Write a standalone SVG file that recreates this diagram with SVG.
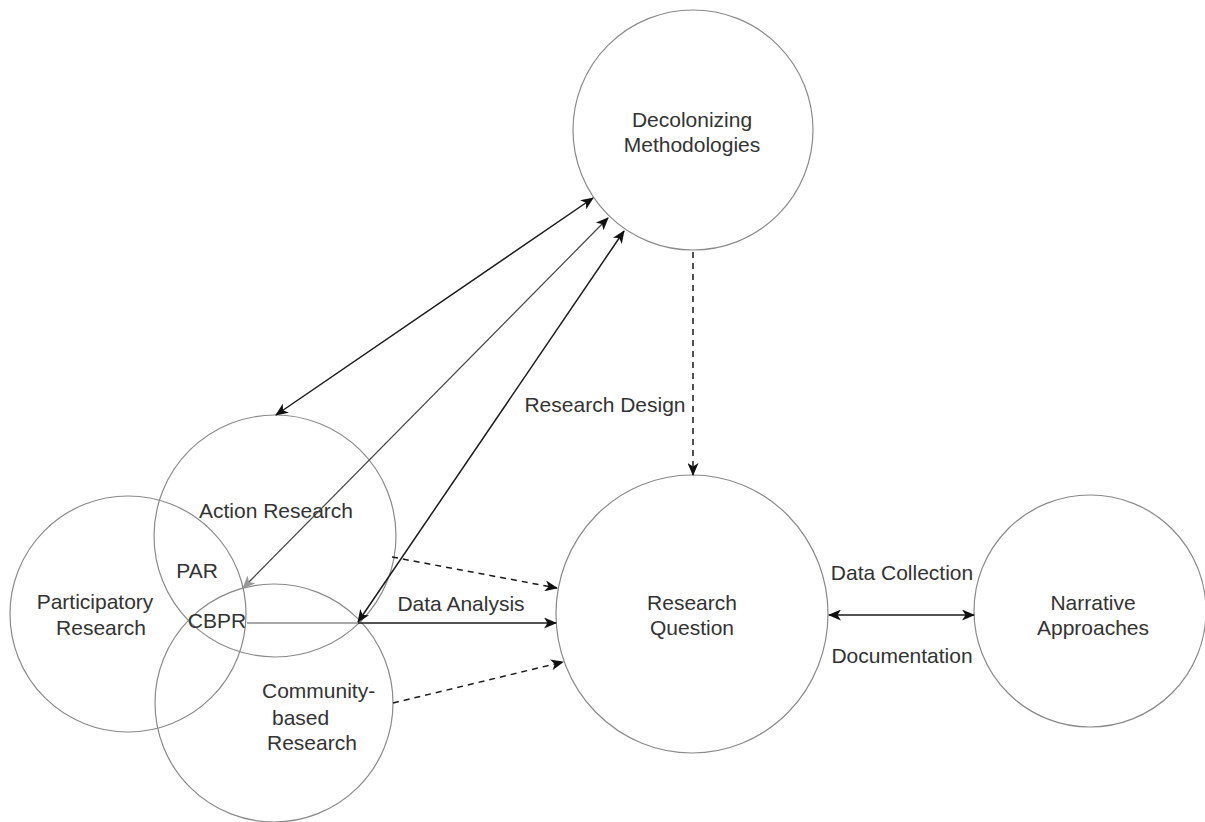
<svg xmlns="http://www.w3.org/2000/svg" width="1205" height="822" viewBox="0 0 1205 822">
<style>
.node{fill:none;stroke:#8a8a8a;stroke-width:1.2}
.lbl{font-family:"Liberation Sans",Arial,sans-serif;font-size:21px;fill:#333}
.c{text-anchor:middle}
.e{fill:none;stroke:#1a1a1a;stroke-width:1.5}
.g{fill:none;stroke:#8a8a8a;stroke-width:1.3}
.d{stroke-dasharray:6 5}
</style>
<defs>
<marker id="ah" viewBox="0 0 13 11" refX="12" refY="5.5" markerWidth="13" markerHeight="11" markerUnits="userSpaceOnUse" orient="auto-start-reverse">
<path d="M0,0 L13,5.5 L0,11 L3.5,5.5 z" fill="#111"/>
</marker>
<marker id="ahg" viewBox="0 0 13 11" refX="12" refY="5.5" markerWidth="13" markerHeight="11" markerUnits="userSpaceOnUse" orient="auto-start-reverse">
<path d="M0,0 L13,5.5 L0,11 L3.5,5.5 z" fill="#999"/>
</marker>
</defs>
<rect width="1205" height="822" fill="#fff"/>
<g id="decolonizing">
<circle class="node" cx="693" cy="130" r="120"/>
<text class="lbl c" x="692" y="127">Decolonizing</text>
<text class="lbl c" x="692" y="152">Methodologies</text>
</g>
<g id="action-research">
<circle class="node" cx="275" cy="536" r="121"/>
<text class="lbl c" x="276" y="518">Action Research</text>
</g>
<g id="participatory-research">
<circle class="node" cx="128" cy="614" r="118"/>
<text class="lbl c" x="95" y="609">Participatory</text>
<text class="lbl c" x="101" y="635">Research</text>
</g>
<g id="community-research">
<circle class="node" cx="274" cy="703" r="119"/>
<text class="lbl" x="262" y="698">Community-</text>
<text class="lbl" x="272" y="725">based</text>
<text class="lbl" x="267" y="750">Research</text>
</g>
<g id="overlaps">
<text class="lbl c" x="197" y="578">PAR</text>
<text class="lbl c" x="217" y="628">CBPR</text>
</g>
<g id="research-question">
<ellipse class="node" cx="692" cy="614" rx="136" ry="139"/>
<text class="lbl c" x="692" y="610">Research</text>
<text class="lbl c" x="692" y="635">Question</text>
</g>
<g id="narrative">
<circle class="node" cx="1090" cy="611" r="116"/>
<text class="lbl c" x="1093" y="610">Narrative</text>
<text class="lbl c" x="1093" y="635">Approaches</text>
</g>
<g id="connectors">
<line class="e" x1="276" y1="415" x2="593" y2="198" marker-start="url(#ah)" marker-end="url(#ah)"/>
<line class="e" x1="243" y1="588" x2="608" y2="218" marker-start="url(#ahg)" marker-end="url(#ah)" style="stroke:#444;stroke-width:1.2"/>
<line class="e" x1="358" y1="622" x2="624" y2="231" marker-start="url(#ah)" marker-end="url(#ah)"/>
<line class="g" x1="247" y1="623" x2="358" y2="623"/>
<line class="e" x1="358" y1="623" x2="556" y2="623" marker-end="url(#ah)"/>
<line class="e d" x1="392" y1="557" x2="557" y2="588" marker-end="url(#ah)"/>
<line class="e d" x1="393" y1="703" x2="563" y2="662" marker-end="url(#ah)"/>
<line class="e d" x1="693" y1="252" x2="693" y2="475" marker-end="url(#ah)"/>
<line class="e" x1="829" y1="615" x2="974" y2="615" marker-start="url(#ah)" marker-end="url(#ah)"/>
<text class="lbl c" x="605" y="412">Research Design</text>
<text class="lbl c" x="461" y="611">Data Analysis</text>
<text class="lbl c" x="902" y="580">Data Collection</text>
<text class="lbl c" x="902" y="663">Documentation</text>
</g>
</svg>
